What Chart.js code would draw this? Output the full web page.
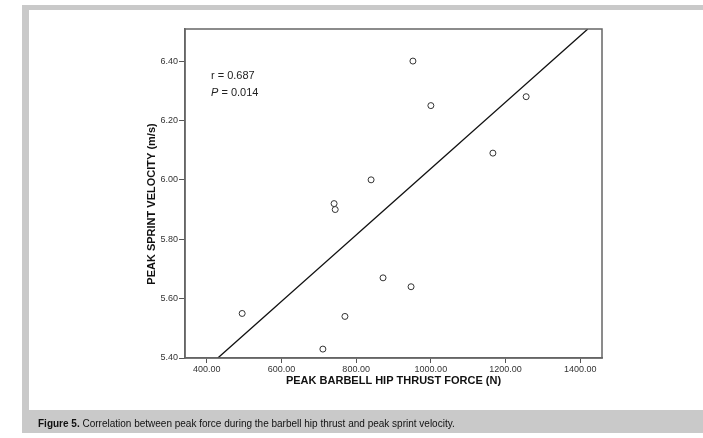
<!DOCTYPE html>
<html>
<head>
<meta charset="utf-8">
<script src="https://cdn.jsdelivr.net/npm/chart.js@4/dist/chart.umd.min.js"></script>
<style>
  html, body { margin: 0; padding: 0; background: #fff; width: 703px; height: 438px; overflow: hidden; }
  #frame { position: absolute; left: 22px; top: 5px; width: 681px; height: 428px; background: #c9c9c9; }
  #panel { position: absolute; left: 29px; top: 10px; width: 674px; height: 400px; background: #fff; }
  #chart { position: absolute; left: 0; top: 0; }
  #stats { position: absolute; left: 211px; top: 67px; font: 11px "Liberation Sans", Arial, sans-serif; line-height: 17px; color: #222; }
  #caption { position: absolute; left: 38px; top: 418px; font: 10px "Liberation Sans", Arial, sans-serif; line-height: 12px; color: #111; white-space: nowrap; }
</style>
</head>
<body>
<div id="frame"></div>
<div id="panel"></div>
<canvas id="chart" width="703" height="438"></canvas>
<div id="stats">r = 0.687<br><i>P</i> = 0.014</div>
<div id="caption"><b>Figure 5.</b> Correlation between peak force during the barbell hip thrust and peak sprint velocity.</div>
<script>
// Peak barbell hip thrust force (N) and peak sprint velocity (m/s) per athlete
const forceN = [495, 711, 741, 744, 770, 840, 872, 947, 952, 1000, 1166, 1255];
const sprintVelocity = [5.55, 5.43, 5.92, 5.90, 5.54, 6.00, 5.67, 5.64, 6.40, 6.25, 6.09, 6.28];

// Axis tick values
const xTicks = [400, 600, 800, 1000, 1200, 1400];
const yTicks = [5.40, 5.60, 5.80, 6.00, 6.20, 6.40];

// Axis ranges
const xRange = [342, 1458];
const yRange = [5.40, 6.508];

// Fitted regression line: velocity = intercept + slope * force
const fitIntercept = 4.919;
const fitSlope = 0.001119;

const points = forceN.map((f, i) => ({ x: f, y: sprintVelocity[i] }));
const fitPoints = [yRange[0], yRange[1]].map(v => ({ x: (v - fitIntercept) / fitSlope, y: v }));

Chart.defaults.font.family = '"Liberation Sans", Arial, sans-serif';

const frameAndTitles = {
  id: 'frameAndTitles',
  afterDraw(chart) {
    const { ctx, chartArea: a } = chart;
    ctx.save();
    ctx.strokeStyle = '#666';
    ctx.lineWidth = 1.5;
    ctx.strokeRect(a.left, a.top, a.right - a.left, a.bottom - a.top);
    ctx.fillStyle = '#111';
    ctx.font = 'bold 11px "Liberation Sans", Arial, sans-serif';
    ctx.textAlign = 'center';
    ctx.textBaseline = 'middle';
    ctx.fillText('PEAK BARBELL HIP THRUST FORCE (N)', (a.left + a.right) / 2, 381);
    ctx.translate(152, 204);
    ctx.rotate(-Math.PI / 2);
    ctx.fillText('PEAK SPRINT VELOCITY (m/s)', 0, 0);
    ctx.restore();
  }
};

new Chart(document.getElementById('chart'), {
  type: 'scatter',
  data: {
    datasets: [
      {
        label: 'Athletes',
        data: points,
        pointStyle: 'circle',
        pointRadius: 3,
        pointHoverRadius: 3,
        pointBorderWidth: 1,
        pointBorderColor: '#333',
        pointBackgroundColor: '#fff'
      },
      {
        label: 'Fit',
        data: fitPoints,
        showLine: true,
        pointRadius: 0,
        borderColor: '#111',
        borderWidth: 1.3
      }
    ]
  },
  options: {
    responsive: false,
    animation: false,
    devicePixelRatio: 1,
    layout: { padding: { left: 140, top: 29, right: 101, bottom: 50 } },
    plugins: { legend: { display: false }, tooltip: { enabled: false } },
    scales: {
      x: {
        type: 'linear',
        min: xRange[0],
        max: xRange[1],
        afterBuildTicks: s => { s.ticks = xTicks.map(v => ({ value: v })); },
        afterFit: s => { s.height = 30; },
        ticks: { callback: v => v.toFixed(2), font: { size: 9 }, color: '#333', padding: 1, maxRotation: 0, autoSkip: false },
        grid: { drawOnChartArea: false, drawTicks: true, tickLength: 5, color: '#555' },
        border: { display: true, color: '#666', width: 1.5 }
      },
      y: {
        type: 'linear',
        min: yRange[0],
        max: yRange[1],
        afterBuildTicks: s => { s.ticks = yTicks.map(v => ({ value: v })); },
        afterFit: s => { s.width = 45; },
        ticks: { callback: v => v.toFixed(2), font: { size: 9 }, color: '#333', padding: 1, autoSkip: false },
        grid: { drawOnChartArea: false, drawTicks: true, tickLength: 6, color: '#555' },
        border: { display: true, color: '#666', width: 1.5 }
      }
    }
  },
  plugins: [frameAndTitles]
});
</script>
</body>
</html>
